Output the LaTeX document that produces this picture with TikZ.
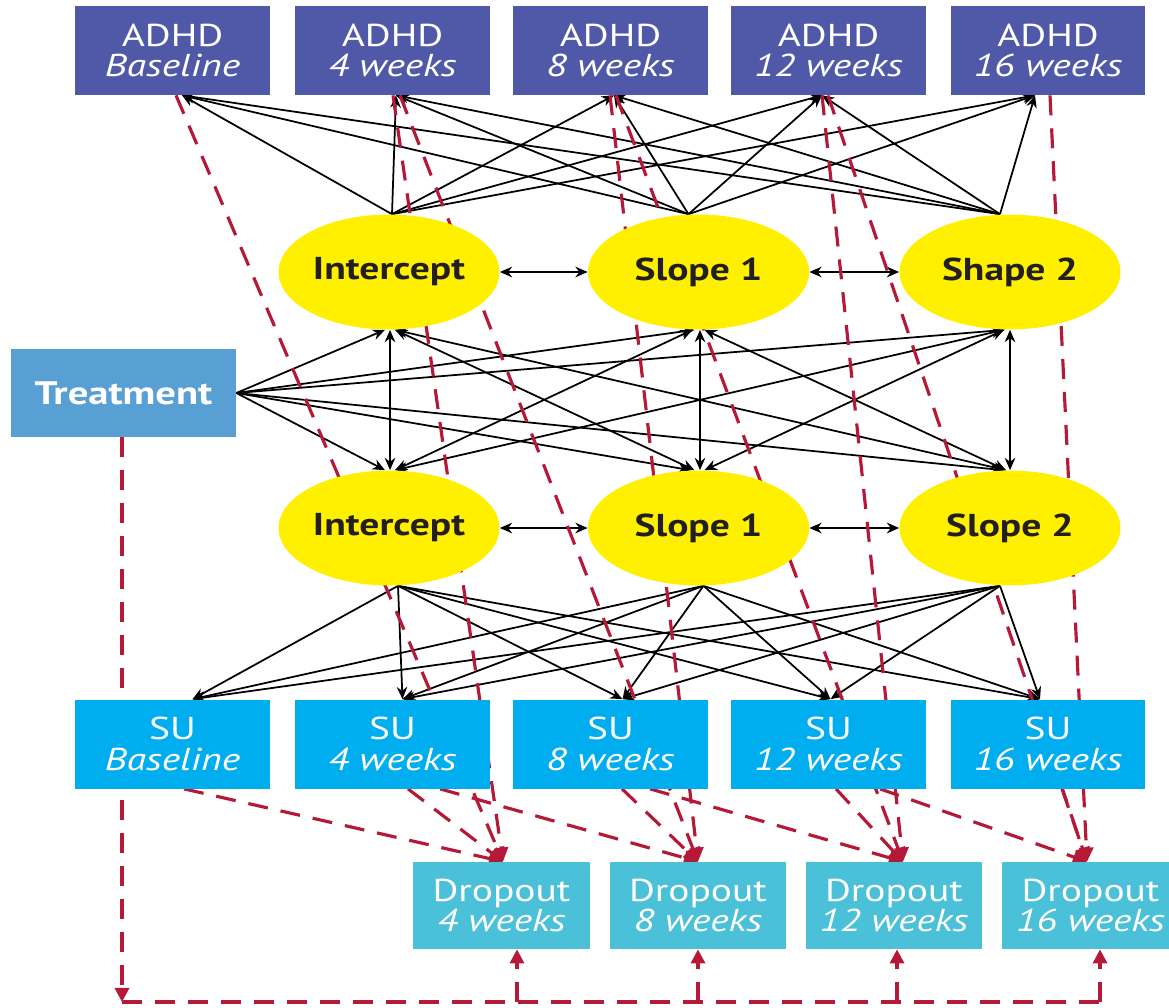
\documentclass[tikz,border=0pt]{standalone}
\usepackage{fontspec}
\setmainfont{PT Sans}[FakeStretch=1.25]
\usetikzlibrary{arrows.meta,calc,shapes.geometric}
\pgfdeclarelayer{bg}
\pgfsetlayers{bg,main}
\definecolor{adhdc}{RGB}{80,88,168}
\definecolor{trtc}{RGB}{88,160,212}
\definecolor{suc}{RGB}{0,174,239}
\definecolor{dropc}{RGB}{75,192,217}
\definecolor{ellc}{RGB}{255,240,0}
\definecolor{rdc}{RGB}{180,25,55}
\definecolor{inkc}{RGB}{35,31,32}
\begin{document}
\begin{tikzpicture}[x=0.02cm,y=-0.02cm,
  box/.style={rectangle, minimum width=3.9cm, minimum height=1.78cm, inner sep=0pt, text=white, align=center, font=\fontsize{18}{17.5}\selectfont},
  adhdbox/.style={box, fill=adhdc},
  subox/.style={box, fill=suc},
  dropbox/.style={box, fill=dropc, minimum width=3.54cm, minimum height=1.74cm},
  trtbox/.style={box, fill=trtc, minimum width=4.5cm, minimum height=1.76cm, font=\fontsize{18.5}{19}\selectfont\bfseries},
  latent/.style={ellipse, fill=ellc, minimum width=4.42cm, minimum height=2.3cm, inner sep=0pt, text=inkc, font=\fontsize{18}{18}\selectfont\bfseries},
  blk/.style={draw=black, line width=1pt, -{Stealth[length=7pt,width=6pt]}},
  dbl/.style={draw=black, line width=1pt, {Stealth[length=7pt,width=6pt]}-{Stealth[length=7pt,width=6pt]}},
  rdash/.style={draw=rdc, line width=1.8pt, dash pattern=on 0.4cm off 0.26cm},
  rarrow/.style={rdash, -{Triangle[length=8pt,width=8pt]}},
]
\useasboundingbox (0,0) rectangle (1169,1007);

% ADHD boxes
\node[adhdbox] (a0) at (172.5,50.5) {ADHD\\\textit{Baseline}};
\node[adhdbox] (a1) at (392.5,50.5) {ADHD\\\textit{4 weeks}};
\node[adhdbox] (a2) at (610.5,50.5) {ADHD\\\textit{8 weeks}};
\node[adhdbox] (a3) at (828.5,50.5) {ADHD\\\textit{12 weeks}};
\node[adhdbox] (a4) at (1048,50.5) {ADHD\\\textit{16 weeks}};

% SU boxes
\node[subox] (s0) at (172.5,744) {SU\\\textit{Baseline}};
\node[subox] (s1) at (392.5,744) {SU\\\textit{4 weeks}};
\node[subox] (s2) at (610.5,744) {SU\\\textit{8 weeks}};
\node[subox] (s3) at (828.5,744) {SU\\\textit{12 weeks}};
\node[subox] (s4) at (1048,744) {SU\\\textit{16 weeks}};

% Dropout boxes
\node[dropbox] (d1) at (501.5,905.5) {Dropout\\\textit{4 weeks}};
\node[dropbox] (d2) at (698,905.5) {Dropout\\\textit{8 weeks}};
\node[dropbox] (d3) at (894,905.5) {Dropout\\\textit{12 weeks}};
\node[dropbox] (d4) at (1090.5,905.5) {Dropout\\\textit{16 weeks}};

% Treatment
\node[trtbox] (tr) at (123.5,393) {Treatment};

% latent growth factors
\node[latent] (iu) at (389,272) {Intercept};
\node[latent] (s1u) at (698.5,272) {Slope 1};
\node[latent] (sh2) at (1010,272) {Shape 2};
\node[latent] (il) at (389,528) {Intercept};
\node[latent] (s1l) at (698.5,528) {Slope 1};
\node[latent] (sl2) at (1010,528) {Slope 2};

\coordinate (corner) at (122,1002);
\coordinate (b1) at (517,1002);
\coordinate (b2) at (698,1002);
\coordinate (b3) at (897,1002);
\coordinate (b4) at (1100,1002);

\begin{pgfonlayer}{bg}
% upper factors -> ADHD
\foreach \f/\fx in {iu/3,s1u/-10,sh2/-10}{
  \draw[blk] ($(\f.north)+(\fx,0)$) -- ($(a0.south)+(9.5,0)$);
  \draw[blk] ($(\f.north)+(\fx,0)$) -- ($(a1.south)+(3.5,0)$);
  \draw[blk] ($(\f.north)+(\fx,0)$) -- ($(a2.south)+(3.5,0)$);
  \draw[blk] ($(\f.north)+(\fx,0)$) -- ($(a3.south)+(-6.5,0)$);
  \draw[blk] ($(\f.north)+(\fx,0)$) -- ($(a4.south)+(-13,0)$);
}
% lower factors -> SU
\foreach \f/\fx in {il/9,s1l/5,sl2/-10}{
  \draw[blk] ($(\f.south)+(\fx,0)$) -- ($(s0.north)+(20,0)$);
  \draw[blk] ($(\f.south)+(\fx,0)$) -- ($(s1.north)+(10,0)$);
  \draw[blk] ($(\f.south)+(\fx,0)$) -- ($(s2.north)+(12,0)$);
  \draw[blk] ($(\f.south)+(\fx,0)$) -- ($(s3.north)+(2,0)$);
  \draw[blk] ($(\f.south)+(\fx,0)$) -- ($(s4.north)+(-8,0)$);
}
% treatment -> factors
\draw[blk] (tr.east) -- ($(iu.south)+(-4,0)$);
\draw[blk] (tr.east) -- ($(s1u.south)+(-4,0)$);
\draw[blk] (tr.east) -- ($(sh2.south)+(-5,0)$);
\draw[blk] (tr.east) -- ($(il.north)+(-4,0)$);
\draw[blk] (tr.east) -- ($(s1l.north)+(-8,0)$);
\draw[blk] (tr.east) -- ($(sl2.north)+(-7,0)$);
% covariances between processes
\draw[dbl] ($(iu.south)+(1,0)$) -- ($(il.north)+(1,0)$);
\draw[dbl] ($(s1u.south)+(1.5,0)$) -- ($(s1l.north)+(1.5,0)$);
\draw[dbl] (sh2.south) -- (sl2.north);
\draw[dbl] ($(iu.south)+(6,0)$) -- ($(s1l.north)+(-4,0)$);
\draw[dbl] ($(iu.south)+(6,0)$) -- ($(sl2.north)+(-4,0)$);
\draw[dbl] ($(s1u.south)+(-6,0)$) -- ($(il.north)+(6,0)$);
\draw[dbl] ($(s1u.south)+(6,0)$) -- ($(sl2.north)+(-4,0)$);
\draw[dbl] ($(sh2.south)+(-6,0)$) -- ($(il.north)+(6,0)$);
\draw[dbl] ($(sh2.south)+(-6,0)$) -- ($(s1l.north)+(6,0)$);
% covariances within processes
\draw[dbl] (iu.east) -- (s1u.west);
\draw[dbl] (s1u.east) -- (sh2.west);
\draw[dbl] (il.east) -- (s1l.west);
\draw[dbl] (s1l.east) -- (sl2.west);

% ADHD -> dropout
\draw[rarrow] ($(a0.south)+(3.5,0)$) -- ($(d1.north)+(1.5,0)$);
\draw[rarrow] ($(a1.south)+(0.5,0)$) -- ($(d1.north)+(1.5,0)$);
\draw[rarrow] ($(a1.south)+(7.5,0)$) -- (d2.north);
\draw[rarrow] ($(a2.south)+(-0.5,0)$) -- (d2.north);
\draw[rarrow] ($(a2.south)+(5.5,0)$) -- ($(d3.north)+(9,0)$);
\draw[rarrow] ($(a3.south)+(-6.5,0)$) -- ($(d3.north)+(9,0)$);
\draw[rarrow] ($(a3.south)+(-0.5,0)$) -- ($(d4.north)+(-3.5,0)$);
\draw[rarrow] ($(a4.south)+(2,0)$) -- ($(d4.north)+(-3.5,0)$);
% SU -> dropout
\draw[rarrow] ($(s0.south)+(11.5,0)$) -- ($(d1.north)+(1.5,0)$);
\draw[rarrow] ($(s1.south)+(15.5,0)$) -- ($(d1.north)+(1.5,0)$);
\draw[rarrow] ($(s1.south)+(47.5,0)$) -- (d2.north);
\draw[rarrow] ($(s2.south)+(11.5,0)$) -- (d2.north);
\draw[rarrow] ($(s2.south)+(39.5,0)$) -- ($(d3.north)+(9,0)$);
\draw[rarrow] ($(s3.south)+(7.5,0)$) -- ($(d3.north)+(9,0)$);
\draw[rarrow] ($(s3.south)+(51.5,0)$) -- ($(d4.north)+(-3.5,0)$);
\draw[rarrow] ($(s4.south)+(14,0)$) -- ($(d4.north)+(-3.5,0)$);
% treatment -> dropout
\draw[rarrow] ($(tr.south)+(-1.5,0)$) -- (corner);
\draw[rdash] (corner) -- (b4);
\draw[rarrow] (b1) -- (b1 |- d1.south);
\draw[rarrow] (b2) -- (b2 |- d2.south);
\draw[rarrow] (b3) -- (b3 |- d3.south);
\draw[rarrow] (b4) -- (b4 |- d4.south);
\end{pgfonlayer}
\end{tikzpicture}
\end{document}
